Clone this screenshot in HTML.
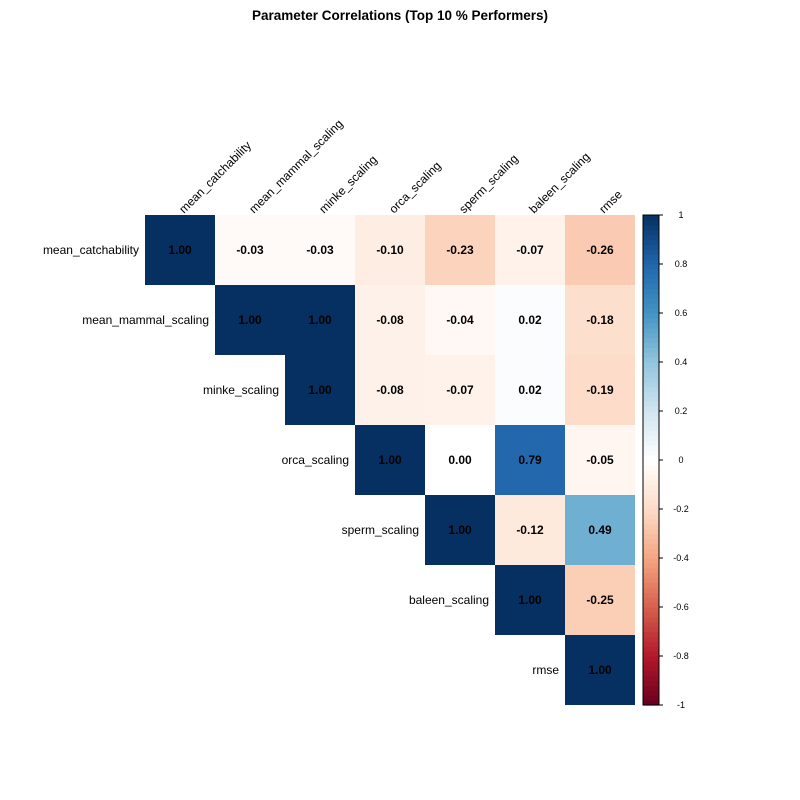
<!DOCTYPE html>
<html><head><meta charset="utf-8"><style>
body{margin:0;background:#fff;}
svg{display:block;font-family:"Liberation Sans",Arial,sans-serif;}
</style></head><body>
<svg id="chart" width="800" height="800">
<text x="400" y="20" text-anchor="middle" font-size="13.5" font-weight="bold">Parameter Correlations (Top 10 % Performers)</text>
</svg>
<script>
const vars = ["mean_catchability","mean_mammal_scaling","minke_scaling","orca_scaling","sperm_scaling","baleen_scaling","rmse"];
const corrRows = [
 [1.00,-0.03,-0.03,-0.10,-0.23,-0.07,-0.26],
 [1.00,1.00,-0.08,-0.04,0.02,-0.18],
 [1.00,-0.08,-0.07,0.02,-0.19],
 [1.00,0.00,0.79,-0.05],
 [1.00,-0.12,0.49],
 [1.00,-0.25],
 [1.00]
];
const legendTicks = [1,0.8,0.6,0.4,0.2,0,-0.2,-0.4,-0.6,-0.8,-1];
const legendLabels = ["1","0.8","0.6","0.4","0.2","0","-0.2","-0.4","-0.6","-0.8","-1"];
const stops = ["#67001F","#B2182B","#D6604D","#F4A582","#FDDBC7","#FFFFFF","#D1E5F0","#92C5DE","#4393C3","#2166AC","#053061"];

const NS="http://www.w3.org/2000/svg";
const svg=document.getElementById('chart');
const X0=145,Y0=215,CW=70,CH=70;
const xPos=j=>X0+j*CW, yPos=i=>Y0+i*CH;
const LB=[643,659,215,705];
const legY=v=>LB[3]-(v+1)/2*(LB[3]-LB[2]);
function hex(h){return [1,3,5].map(k=>parseInt(h.substr(k,2),16));}
function color(v){
  const t=(v+1)/2*(stops.length-1);const i=Math.min(Math.floor(t),stops.length-2);const f=t-i;
  const a=hex(stops[i]),b=hex(stops[i+1]);
  return 'rgb('+a.map((c,k)=>Math.round(c+(b[k]-c)*f)).join(',')+')';
}
function el(tag,attrs){const e=document.createElementNS(NS,tag);for(const k in attrs)e.setAttribute(k,attrs[k]);svg.appendChild(e);return e;}

corrRows.forEach((row,i)=>{
  row.forEach((v,k)=>{
    const j=i+k;
    const r=el('rect',{x:xPos(j),y:yPos(i),width:CW,height:CH,fill:color(v)});
    
    
    const t=el('text',{x:xPos(j)+CW/2,y:yPos(i)+CH/2+4,'text-anchor':'middle','font-size':12,'font-weight':'bold',fill:'#000'});
    t.textContent=v.toFixed(2);
    
    
  });
  const lab=el('text',{x:xPos(i)-6,y:yPos(i)+CH/2+4,'text-anchor':'end','font-size':12,fill:'#000'});
  lab.textContent=vars[i];
  
  
});
vars.forEach((v,j)=>{
  const cx=xPos(j)+CW/2+4,cy=Y0-1;
  const t=el('text',{x:cx,y:cy,'font-size':12,fill:'#000',transform:'rotate(-45 '+cx+' '+cy+')'});
  t.textContent=v;
  
  
});
const N=100;
for(let k=0;k<N;k++){
  const v0=-1+2*k/N,v1=-1+2*(k+1)/N;
  const r=el('rect',{x:LB[0],y:legY(v1),width:LB[1]-LB[0],height:legY(v0)-legY(v1)+0.6,fill:color((v0+v1)/2)});
  
  
}
const fr=el('rect',{x:LB[0],y:LB[2],width:LB[1]-LB[0],height:LB[3]-LB[2],fill:'none',stroke:'#000','stroke-width':1});


legendTicks.forEach((v,k)=>{
  const y=legY(v);
  const l=el('line',{x1:LB[1],x2:LB[1]+4,y1:y,y2:y,stroke:'#000'});
  
  
  const t=el('text',{x:681,y:y+3,'text-anchor':'middle','font-size':9,fill:'#000'});
  t.textContent=legendLabels[k];
  
  
});
</script>
</body></html>
